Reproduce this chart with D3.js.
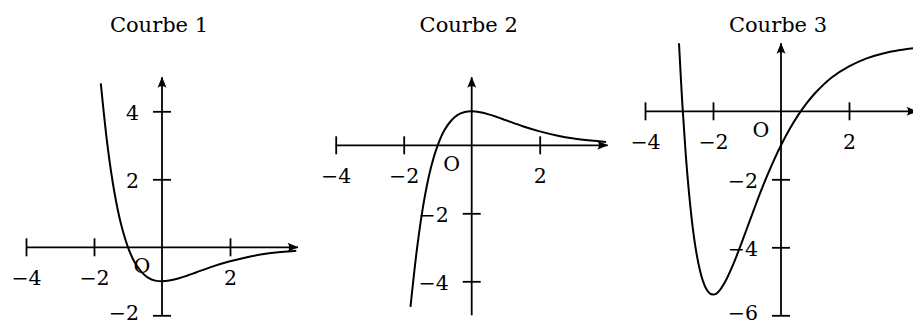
<!DOCTYPE html>
<html>
<head>
<meta charset="utf-8">
<script src="https://cdn.jsdelivr.net/npm/d3@7"></script>
<style>
  body { margin: 0; background: #fff; }
  svg { display: block; }
  text { font-family: "DejaVu Serif", serif; fill: #000; }
</style>
</head>
<body>
<script>
// values
const titles = ['Courbe 1', 'Courbe 2', 'Courbe 3']
const xTickValues = [-4, -2, 2]
const yTicks1 = [-2, 2, 4]
const yTicks2 = [-2, -4]
const yTicks3 = [-2, -4, -6]
const yRange1 = [-2, 5]
const yRange2 = [-5, 2]
const yRange3 = [-6, 2]

const curveX12 = [-1.8, -1.6, -1.4, -1.2, -1.0, -0.8, -0.6, -0.4, -0.2, 0, 0.25, 0.5, 0.75, 1, 1.5, 2, 2.5, 3, 3.5, 3.95]
const curve1Y = [4.82, 2.97, 1.62, 0.66, 0, -0.45, -0.73, -0.9, -0.98, -1, -0.97, -0.91, -0.83, -0.74, -0.56, -0.41, -0.29, -0.2, -0.14, -0.1]
const curve2Y = [-4.75, -2.97, -1.62, -0.66, 0, 0.45, 0.73, 0.9, 0.98, 1, 0.97, 0.91, 0.83, 0.74, 0.56, 0.41, 0.29, 0.2, 0.14, 0.1]
const curve3X = [-3.0, -2.9, -2.8, -2.7, -2.6, -2.5, -2.4, -2.3, -2.2, -2.1, -2.0, -1.9, -1.8, -1.6, -1.4, -1.2, -1.0, -0.8, -0.6, -0.4, -0.2, 0, 0.25, 0.5, 0.75, 1, 1.5, 2, 2.5, 3, 3.5, 3.9]
const curve3Y = [2, 0.18, -1.29, -2.46, -3.39, -4.09, -4.61, -4.98, -5.22, -5.35, -5.39, -5.36, -5.26, -4.93, -4.49, -3.98, -3.44, -2.9, -2.37, -1.88, -1.42, -1, -0.53, -0.12, 0.23, 0.53, 1.0, 1.32, 1.55, 1.7, 1.8, 1.86]

const W = 913, H = 325
const unit = 34
const bottom = 315.3
const originsX = [162, 471.7, 781]

const svg = d3.select('body').append('svg').attr('width', W).attr('height', H)

// arrow head like the latex one
svg.append('defs').append('marker')
  .attr('id', 'arr')
  .attr('markerUnits', 'userSpaceOnUse')
  .attr('viewBox', '-12 -6 13 12')
  .attr('refX', 0).attr('refY', 0)
  .attr('markerWidth', 13).attr('markerHeight', 12)
  .attr('orient', 'auto')
  .append('path')
  .attr('d', 'M0.5,0 L-10.5,-4.5 Q-7,0 -10.5,4.5 Z')
  .attr('fill', '#000')

const panels = [
  { title: titles[0], yr: yRange1, yt: yTicks1, xs: curveX12, ys: curve1Y },
  { title: titles[1], yr: yRange2, yt: yTicks2, xs: curveX12, ys: curve2Y },
  { title: titles[2], yr: yRange3, yt: yTicks3, xs: curve3X, ys: curve3Y },
]

panels.forEach((p, i) => {
  const ox = originsX[i]
  const x = d3.scaleLinear().domain([-4, 4]).range([ox - 4 * unit, ox + 4 * unit])
  const y = d3.scaleLinear().domain(p.yr).range([bottom, bottom - (p.yr[1] - p.yr[0]) * unit])
  const g = svg.append('g')

  // title
  g.append('text')
    .attr('x', ox - 3).attr('y', 31.5)
    .attr('text-anchor', 'middle')
    .style('font-size', '21px')
    .text(p.title)

  // x axis
  const gx = g.append('g').attr('transform', `translate(0,${y(0)})`)
    .call(d3.axisBottom(x).tickValues(xTickValues).tickSize(0).tickFormat(d3.format('d')))
  gx.select('.domain').remove()
  gx.selectAll('.tick line').attr('y1', -9).attr('y2', 9).attr('stroke', '#000').attr('stroke-width', 1.8)
  gx.selectAll('.tick text').attr('y', 38).attr('dy', null)
    .style('font-size', '20.5px').attr('font-family', null)
  g.append('line')
    .attr('x1', x(-4)).attr('x2', x(4)).attr('y1', y(0)).attr('y2', y(0))
    .attr('stroke', '#000').attr('stroke-width', 1.8).attr('marker-end', 'url(#arr)')

  // y axis
  const gy = g.append('g').attr('transform', `translate(${x(0)},0)`)
    .call(d3.axisLeft(y).tickValues(p.yt).tickSize(0).tickFormat(d3.format('d')))
  gy.select('.domain').remove()
  gy.selectAll('.tick line').attr('x1', -9).attr('x2', 9).attr('stroke', '#000').attr('stroke-width', 1.8)
  // lowest label sits a bit higher so it stays inside the page
  gy.selectAll('.tick text').attr('x', -23).attr('dy', null).attr('y', d => d === p.yr[0] ? 4.5 : 8)
    .style('font-size', '20.5px').attr('font-family', null)
  g.append('line')
    .attr('x1', x(0)).attr('x2', x(0)).attr('y1', y(p.yr[0])).attr('y2', y(p.yr[1]))
    .attr('stroke', '#000').attr('stroke-width', 1.8).attr('marker-end', 'url(#arr)')

  // origin
  g.append('text')
    .attr('x', x(0) - 20).attr('y', y(0) + 26)
    .attr('text-anchor', 'middle')
    .style('font-size', '20.5px')
    .text('O')

  // curve
  const pts = p.xs.map((v, k) => [v, p.ys[k]])
  g.append('path')
    .datum(pts)
    .attr('fill', 'none')
    .attr('stroke', '#000')
    .attr('stroke-width', 2)
    .attr('d', d3.line().x(d => x(d[0])).y(d => y(d[1])).curve(d3.curveCatmullRom.alpha(0.5)))
})
</script>
</body>
</html>
